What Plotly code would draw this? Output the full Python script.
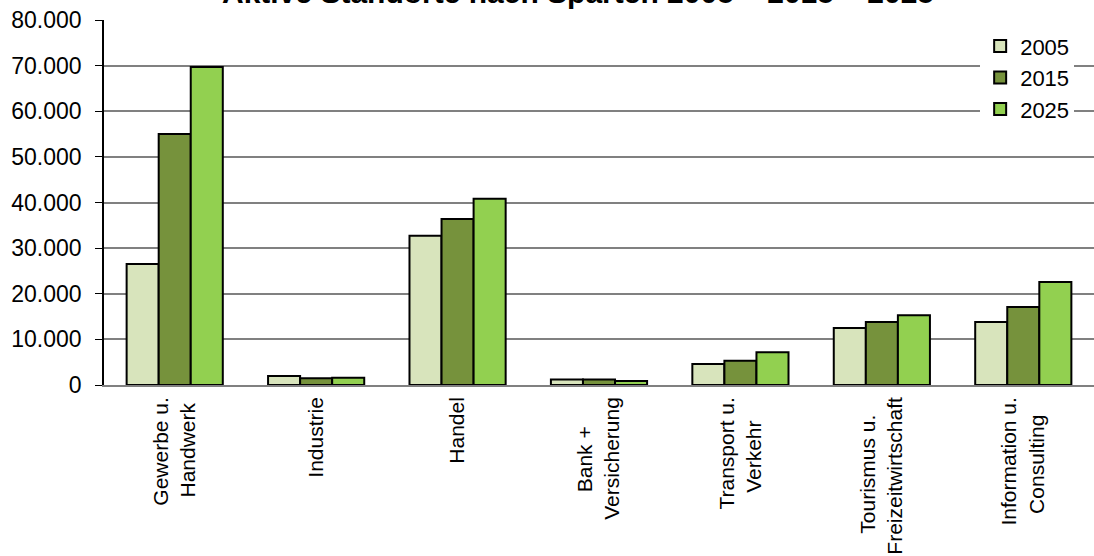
import plotly.graph_objects as go

NB = "\u00a0"
categories = ["Gewerbe u.<br>Handwerk" + NB, "Industrie", "Handel", "Bank +" + NB * 5 + "<br>Versicherung",
              "Transport u.<br>Verkehr" + NB * 4, "Tourismus u." + NB * 3 + "<br>Freizeitwirtschaft",
              "Information u.<br>Consulting" + NB * 3]
years = ["2005", "2015", "2025"]
v2005 = [26500, 2000, 32700, 1200, 4600, 12500, 13800]
v2015 = [55000, 1500, 36400, 1200, 5300, 13800, 17100]
v2025 = [69700, 1600, 40800, 900, 7200, 15300, 22600]
colors = ["#d8e4bc", "#76923c", "#92d050"]
title = "Aktive Standorte nach Sparten 2005 – 2015 – 2025"

fig = go.Figure()
for name, vals, c in zip(years, [v2005, v2015, v2025], colors):
    fig.add_trace(go.Bar(name=name, x=categories, y=vals, marker=dict(color=c, line=dict(color="black", width=2))))

font = "Liberation Sans, Arial, sans-serif"
fig.update_layout(
    width=1094, height=556,
    margin=dict(l=104, r=0, t=20, b=171, autoexpand=False),
    paper_bgcolor="white", plot_bgcolor="white",
    barmode="group", bargap=0.32, bargroupgap=0,
    separators=",.",
    font=dict(family=font, size=22, color="black"),
    showlegend=True,
    legend=dict(x=0.885, xanchor="left", y=0.986, yanchor="top", bgcolor="white",
                font=dict(size=22), tracegroupgap=0, itemwidth=30),
    annotations=[dict(text="<b>" + title + "</b>", x=0.479, xref="paper", y=1.0247, yref="paper",
                      xanchor="center", yanchor="bottom", showarrow=False,
                      font=dict(size=30, family=font, color="black"))],
)
fig.update_yaxes(range=[0, 80000], dtick=10000, tickformat=",d", showgrid=True, automargin=False,
                 gridcolor="#808080", gridwidth=1.5, showline=True, linecolor="black", linewidth=1.5,
                 ticks="outside", ticklen=7, tickcolor="black", tickfont=dict(size=23),
                 ticklabelstandoff=9, zeroline=False)
fig.update_xaxes(showline=True, linecolor="#808080", linewidth=1.5, tickangle=-90, automargin=False,
                 tickfont=dict(size=21), ticks="", ticklabelstandoff=2)
fig.write_html("out.html", config={"displayModeBar": False},
               post_script="document.body.style.margin='0';")
